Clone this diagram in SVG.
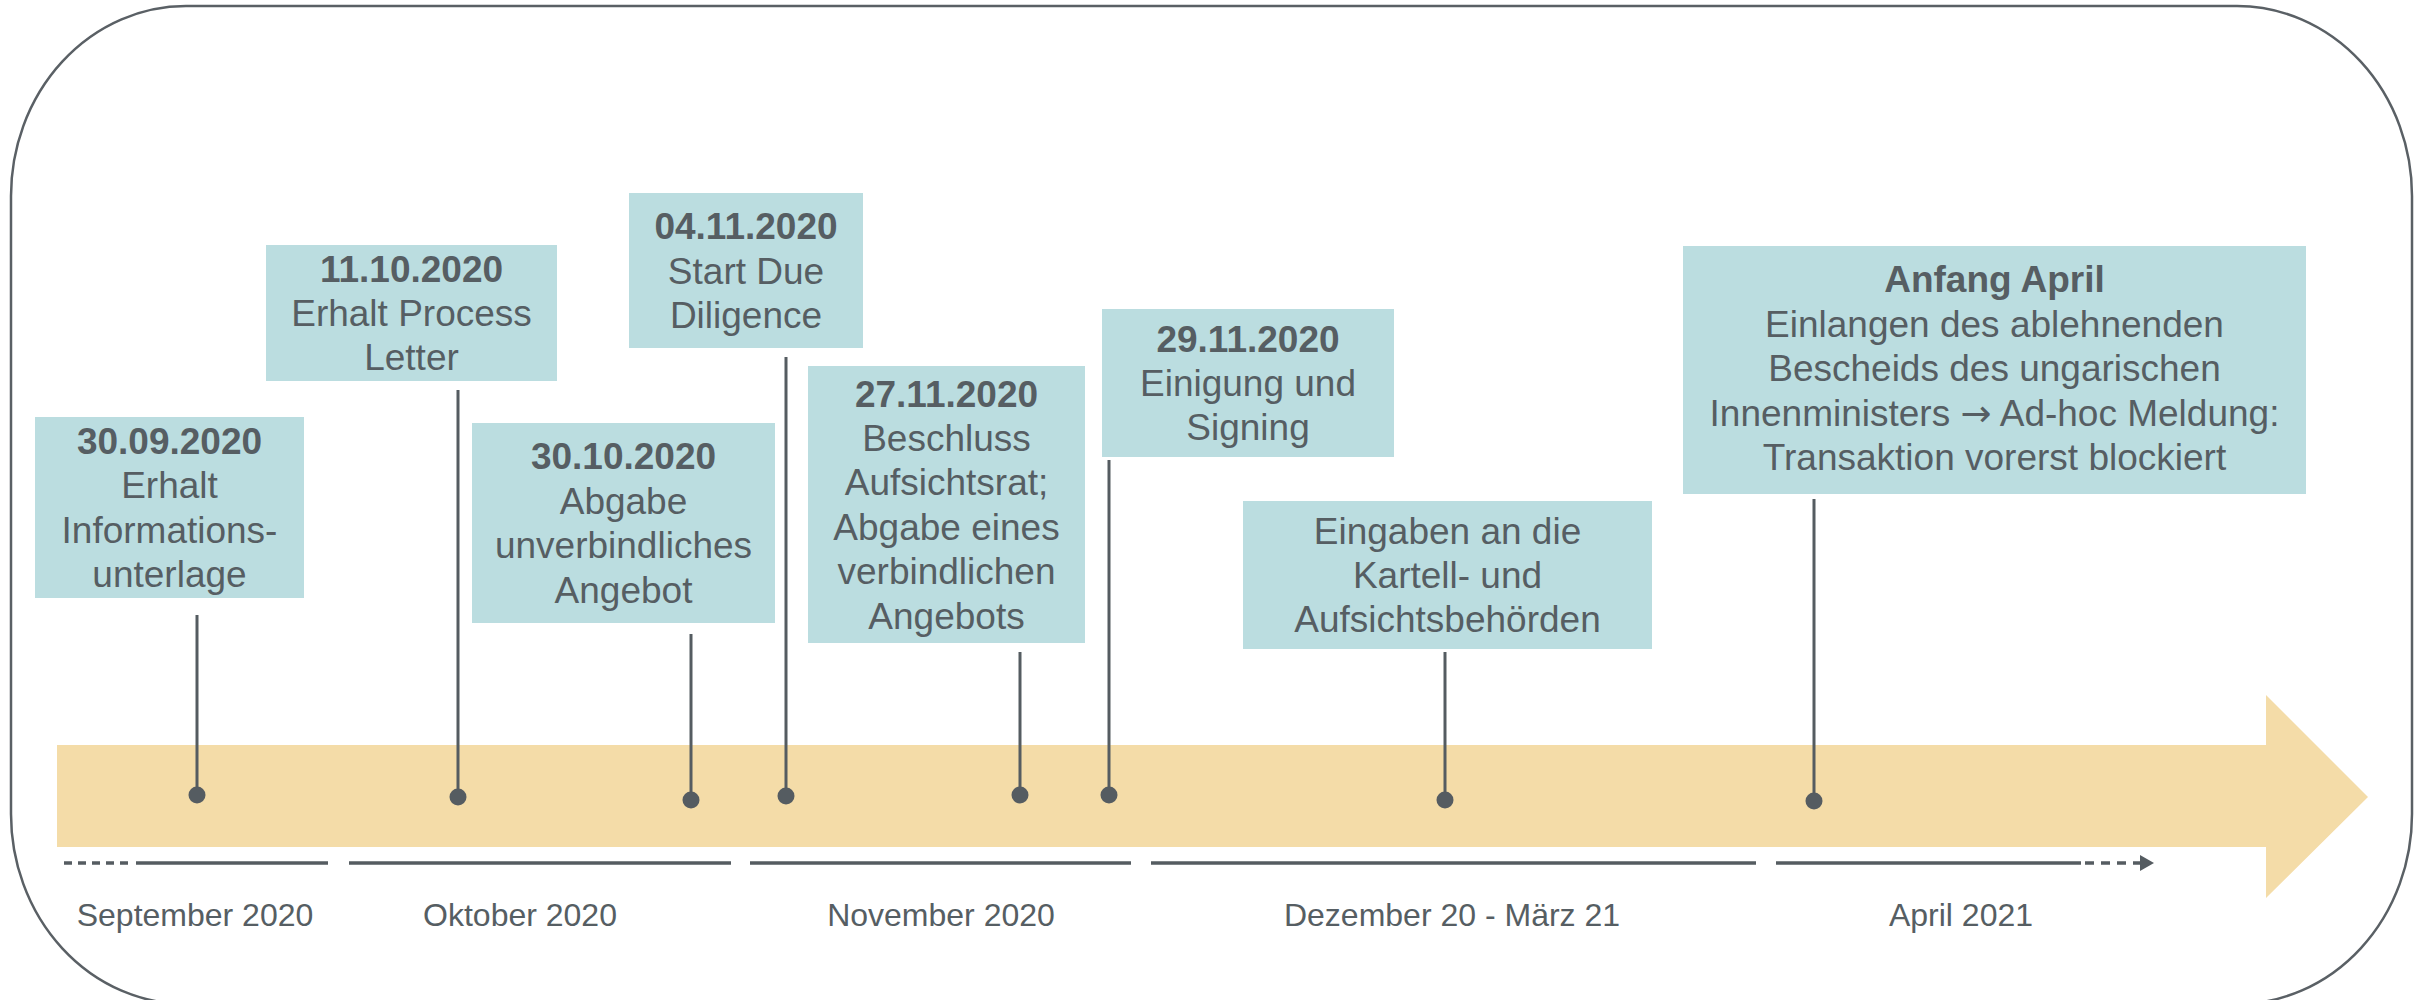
<svg xmlns="http://www.w3.org/2000/svg" width="2428" height="1000" viewBox="0 0 2428 1000">
<style>
.box{fill:#BBDDE0}
.t{font-family:"Liberation Sans",Arial,sans-serif;font-size:37px;fill:#565E63;text-anchor:middle}
.b{font-weight:bold}
.ar{font-family:"DejaVu Sans",sans-serif}
.m{font-family:"Liberation Sans",Arial,sans-serif;font-size:32px;fill:#565E63;text-anchor:middle}
.c{stroke:#555C61;stroke-width:3;fill:none}
.d{fill:#555C61}
.tl{stroke:#555C61;stroke-width:3.5;fill:none}
</style>
<rect x="11" y="6" width="2401" height="998" rx="175" ry="190" fill="none" stroke="#5A6065" stroke-width="2.5"/>
<polygon points="57,745 2266,745 2266,695 2368,797 2266,898 2266,847 57,847" fill="#F4DCA8"/>
<g id="timeline">
<line class="tl" x1="64" y1="863" x2="132" y2="863" stroke-dasharray="8 6"/>
<line class="tl" x1="136" y1="863" x2="328" y2="863"/>
<line class="tl" x1="349" y1="863" x2="731" y2="863"/>
<line class="tl" x1="750" y1="863" x2="1131" y2="863"/>
<line class="tl" x1="1151" y1="863" x2="1756" y2="863"/>
<line class="tl" x1="1776" y1="863" x2="2081" y2="863"/>
<line class="tl" x1="2085" y1="863" x2="2140" y2="863" stroke-dasharray="9 7"/>
<polygon class="d" points="2140,855 2154,863 2140,871"/>
</g>
<g id="months">
<text class="m" x="195" y="926">September 2020</text>
<text class="m" x="520" y="926">Oktober 2020</text>
<text class="m" x="941" y="926">November 2020</text>
<text class="m" x="1452" y="926">Dezember 20 - März 21</text>
<text class="m" x="1961" y="926">April 2021</text>
</g>
<g id="connectors">
<line class="c" x1="197" y1="615" x2="197" y2="795"/>
<line class="c" x1="458" y1="390" x2="458" y2="797"/>
<line class="c" x1="691" y1="634" x2="691" y2="800"/>
<line class="c" x1="786" y1="357" x2="786" y2="796"/>
<line class="c" x1="1020" y1="652" x2="1020" y2="795"/>
<line class="c" x1="1109" y1="460" x2="1109" y2="795"/>
<line class="c" x1="1445" y1="652" x2="1445" y2="800"/>
<line class="c" x1="1814" y1="499" x2="1814" y2="801"/>
<circle class="d" cx="197" cy="795" r="8.5"/>
<circle class="d" cx="458" cy="797" r="8.5"/>
<circle class="d" cx="691" cy="800" r="8.5"/>
<circle class="d" cx="786" cy="796" r="8.5"/>
<circle class="d" cx="1020" cy="795" r="8.5"/>
<circle class="d" cx="1109" cy="795" r="8.5"/>
<circle class="d" cx="1445" cy="800" r="8.5"/>
<circle class="d" cx="1814" cy="801" r="8.5"/>
</g>
<g id="n1">
<rect class="box" x="35" y="417" width="269" height="181"/>
<text class="t b" x="169.5" y="454">30.09.2020</text>
<text class="t" x="169.5" y="498.4">Erhalt</text>
<text class="t" x="169.5" y="542.8">Informations-</text>
<text class="t" x="169.5" y="587.2">unterlage</text>
</g>
<g id="n2">
<rect class="box" x="266" y="245" width="291" height="136"/>
<text class="t b" x="411.5" y="281.6">11.10.2020</text>
<text class="t" x="411.5" y="326">Erhalt Process</text>
<text class="t" x="411.5" y="370.4">Letter</text>
</g>
<g id="n3">
<rect class="box" x="472" y="423" width="303" height="200"/>
<text class="t b" x="623.5" y="469.4">30.10.2020</text>
<text class="t" x="623.5" y="513.8">Abgabe</text>
<text class="t" x="623.5" y="558.2">unverbindliches</text>
<text class="t" x="623.5" y="602.6">Angebot</text>
</g>
<g id="n4">
<rect class="box" x="629" y="193" width="234" height="155"/>
<text class="t b" x="746" y="239.1">04.11.2020</text>
<text class="t" x="746" y="283.5">Start Due</text>
<text class="t" x="746" y="327.9">Diligence</text>
</g>
<g id="n5">
<rect class="box" x="808" y="366" width="277" height="277"/>
<text class="t b" x="946.5" y="406.5">27.11.2020</text>
<text class="t" x="946.5" y="450.9">Beschluss</text>
<text class="t" x="946.5" y="495.3">Aufsichtsrat;</text>
<text class="t" x="946.5" y="539.7">Abgabe eines</text>
<text class="t" x="946.5" y="584.1">verbindlichen</text>
<text class="t" x="946.5" y="628.5">Angebots</text>
</g>
<g id="n6">
<rect class="box" x="1102" y="309" width="292" height="148"/>
<text class="t b" x="1248" y="351.6">29.11.2020</text>
<text class="t" x="1248" y="396">Einigung und</text>
<text class="t" x="1248" y="440.4">Signing</text>
</g>
<g id="n7">
<rect class="box" x="1243" y="501" width="409" height="148"/>
<text class="t" x="1447.5" y="543.6">Eingaben an die</text>
<text class="t" x="1447.5" y="588">Kartell- und</text>
<text class="t" x="1447.5" y="632.4">Aufsichtsbehörden</text>
</g>
<g id="n8">
<rect class="box" x="1683" y="246" width="623" height="248"/>
<text class="t b" x="1994.5" y="292">Anfang April</text>
<text class="t" x="1994.5" y="336.5">Einlangen des ablehnenden</text>
<text class="t" x="1994.5" y="381">Bescheids des ungarischen</text>
<text class="t" x="1994.5" y="425.5">Innenministers <tspan class="ar">→</tspan> Ad-hoc Meldung:</text>
<text class="t" x="1994.5" y="470">Transaktion vorerst blockiert</text>
</g>
</svg>
